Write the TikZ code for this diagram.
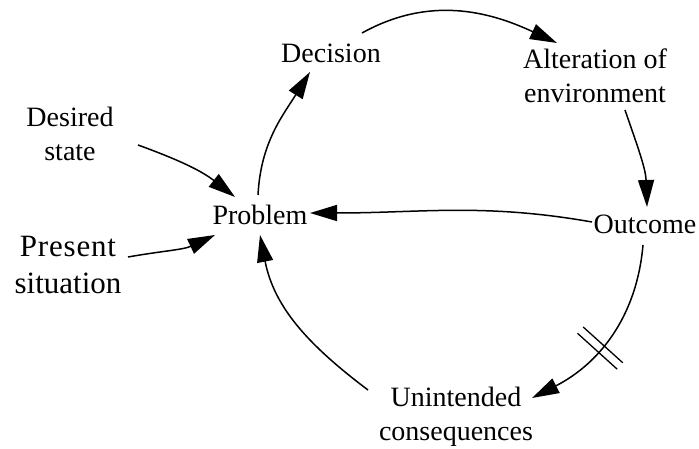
\documentclass[tikz,border=0pt]{standalone}
\usepackage{fontspec}
\setmainfont{Liberation Serif}
\usetikzlibrary{arrows.meta,calc}

\begin{document}
\begin{tikzpicture}[x=1pt,y=1pt,
  lbl/.style={anchor=base,align=center,inner sep=0pt,
    font=\fontsize{28}{34}\selectfont},
  biglbl/.style={anchor=base,align=center,inner sep=0pt,
    font=\fontsize{31}{36}\selectfont},
  link/.style={line width=1.5pt,-{Triangle[length=27pt,width=16pt]}},
  delaymark/.style={sloped,minimum width=7pt,minimum height=52pt,inner sep=0pt}
]
\fill[white] (0,0) rectangle (699,-449);
\useasboundingbox (0,0) rectangle (699,-449);

% variables of the loop (anchored on the baseline of the last line)
\node[lbl]    (des)   at (70,-161)  {Desired\\state};
\node[biglbl] (pres)  at (68,-293)  {{\addfontfeature{LetterSpace=2.7}Present}\\situation};
\node[lbl]    (prob)  at (260,-225) {Problem};
\node[lbl]    (dec)   at (331,-63)  {Decision};
\node[lbl]    (alt)   at (595,-103) {Alteration of\\environment};
\node[lbl]    (out)   at (645,-234) {Outcome};
\node[lbl]    (unint) at (456,-440) {Unintended\\consequences};

% causal links
\draw[link] ($(des.base)+(68,16)$)   to[out=-20,in=142] ($(prob.base)+(-25,28)$);
\draw[link] ($(pres.base)+(60,36)$)  to[out=10,in=205]  ($(prob.base)+(-45,-10)$);
\draw[link] ($(prob.base)+(-2,30)$)  to[out=87,in=238]  ($(dec.base)+(-21,-9)$);
\draw[link] ($(dec.base)+(31,30)$)   to[out=29,in=155]  ($(alt.base)+(-38,60)$);
\draw[link] ($(alt.base)+(30,-7)$)   to[out=-71,in=92]  ($(out.base)+(2,27)$);
\draw[link] ($(out.base)+(-53,12)$)  to[out=170,in=0]   ($(prob.base)+(50,12)$);
\draw[link] ($(out.base)+(-2,-11)$)  to[out=-95,in=27]
  node[delaymark,pos=0.58] (dm) {} ($(unint.base)+(76,42)$);
\draw[link] ($(unint.base)+(-88,50)$) to[out=143,in=-79] ($(prob.base)+(0,-10)$);

% delay mark
\draw[line width=1.3pt] (dm.north west) -- (dm.south west)
                        (dm.north east) -- (dm.south east);
\end{tikzpicture}
\end{document}
